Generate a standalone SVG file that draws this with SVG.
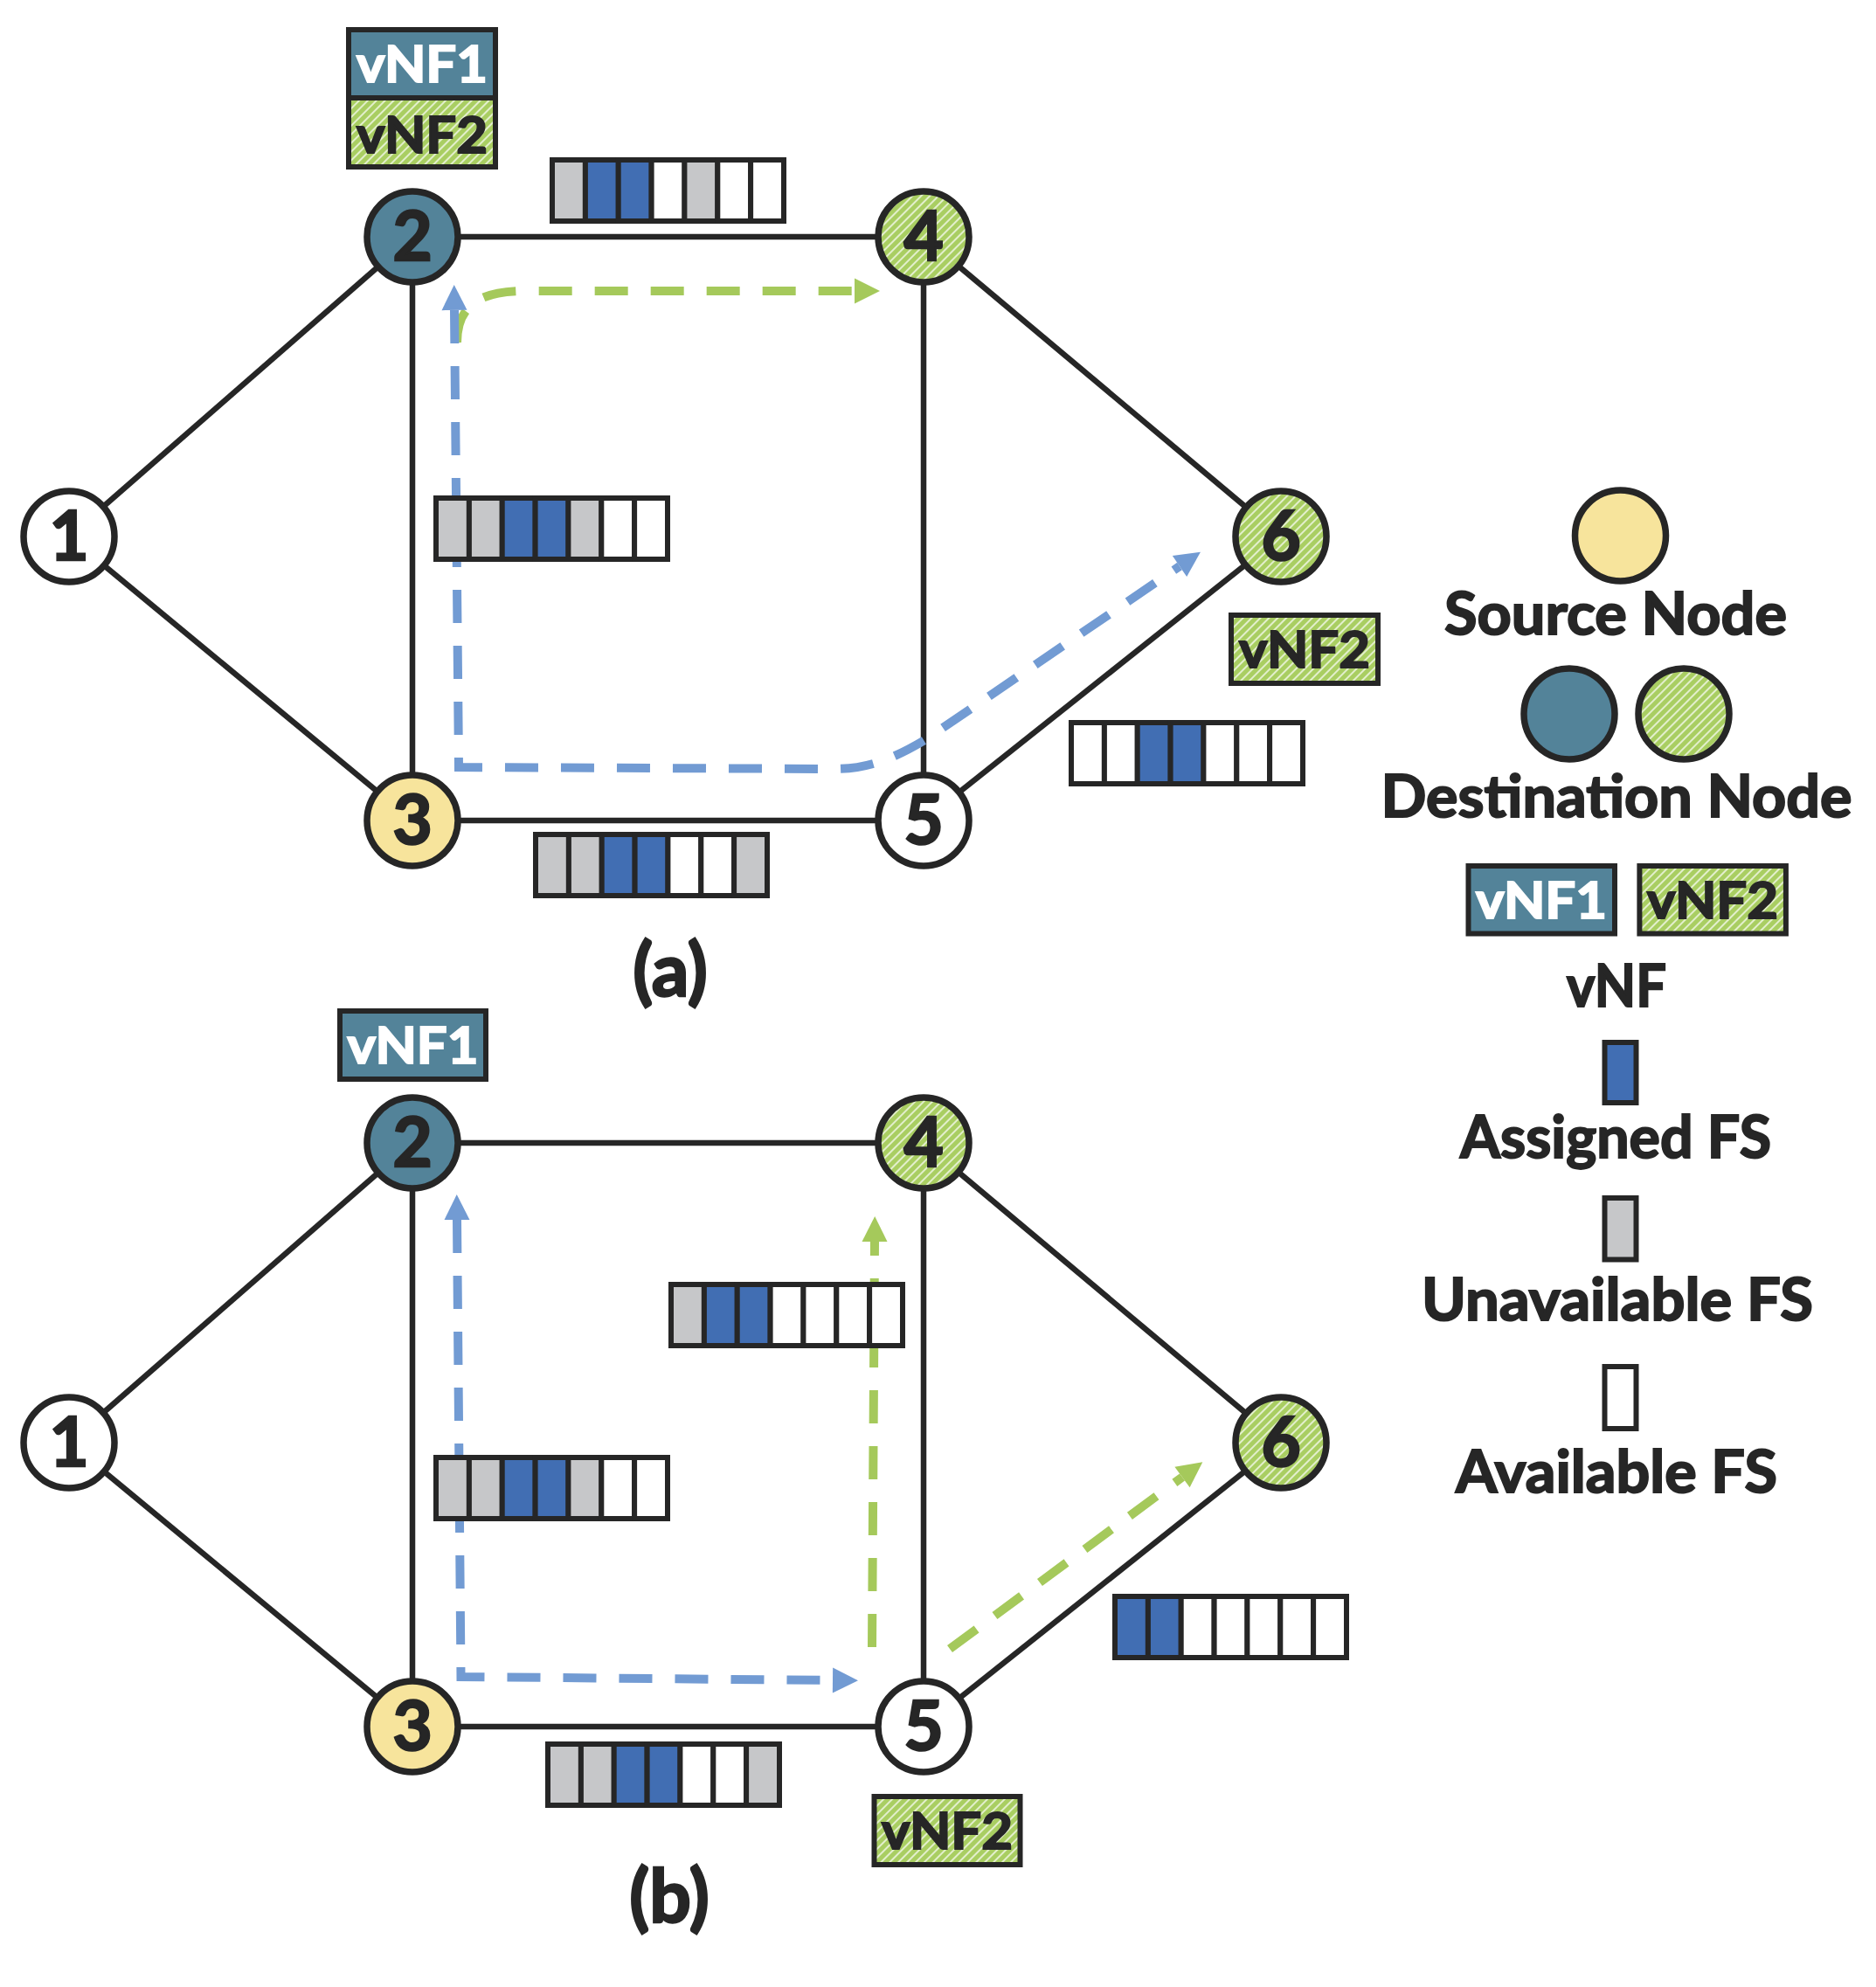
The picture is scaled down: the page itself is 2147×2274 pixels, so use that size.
<svg xmlns="http://www.w3.org/2000/svg" width="2147" height="2274" viewBox="0 0 2147 2274">
<defs>
<pattern id="hatch" patternUnits="userSpaceOnUse" width="7" height="7" patternTransform="rotate(45)">
<rect width="7" height="7" fill="#A9CE62"/>
<line x1="1" y1="0" x2="1" y2="7" stroke="#ffffff" stroke-width="1.6" stroke-opacity="0.85"/>
</pattern>
<marker id="arrB" markerUnits="userSpaceOnUse" markerWidth="32" markerHeight="32" viewBox="0 -16 30 32" refX="0" refY="0" orient="auto-start-reverse">
<path d="M0,-14.5 L29,0 L0,14.5 z" fill="#729BD3"/>
</marker>
<marker id="arrG" markerUnits="userSpaceOnUse" markerWidth="32" markerHeight="32" viewBox="0 -16 30 32" refX="0" refY="0" orient="auto-start-reverse">
<path d="M0,-14.5 L29,0 L0,14.5 z" fill="#A5C95B"/>
</marker>
</defs>
<style>
.edge{stroke:#262626;stroke-width:6.5;fill:none}
.pb{stroke:#729BD3;stroke-width:10;fill:none;stroke-dasharray:38 26}
.pg{stroke:#A5C95B;stroke-width:10;fill:none;stroke-dasharray:38 26}
.nd{stroke:#262626;stroke-width:7.5}
.w{fill:#ffffff}
.y{fill:#F7E49C}
.t{fill:#538399}
.g{fill:url(#hatch)}
.num{font-family:Lato,"Open Sans",sans-serif;font-weight:700;font-size:78px;fill:#262626;stroke:#262626;stroke-width:2.5;text-anchor:middle}
.c{stroke:#262626;stroke-width:6}
.cb{fill:#416EB3}
.cg{fill:#C6C7C9}
.cw{fill:#ffffff}
.box{stroke:#262626;stroke-width:6}
.bt{font-family:Lato,"Open Sans",sans-serif;font-weight:700;font-size:58px;stroke-width:2;text-anchor:middle}
.dk{fill:#262626;stroke:#262626}
.wt{fill:#ffffff;stroke:#ffffff}
.lg{font-family:Lato,"Open Sans",sans-serif;font-weight:700;font-size:66px;fill:#262626;stroke:#262626;stroke-width:2;text-anchor:middle}
.cap{font-family:Lato,"Open Sans",sans-serif;font-weight:700;font-size:84px;fill:#262626;stroke:#262626;stroke-width:2.5;text-anchor:middle}
</style>
<rect width="2147" height="2274" fill="#ffffff"/>

<g id="edges">
<line class="edge" x1="79" y1="614" x2="472" y2="271"/>
<line class="edge" x1="79" y1="614" x2="472" y2="939"/>
<line class="edge" x1="472" y1="271" x2="472" y2="939"/>
<line class="edge" x1="472" y1="271" x2="1057" y2="271"/>
<line class="edge" x1="472" y1="939" x2="1057" y2="939"/>
<line class="edge" x1="1057" y1="271" x2="1057" y2="939"/>
<line class="edge" x1="1057" y1="271" x2="1466" y2="614"/>
<line class="edge" x1="1057" y1="939" x2="1466" y2="614"/>
<line class="edge" x1="79" y1="1651" x2="472" y2="1308"/>
<line class="edge" x1="79" y1="1651" x2="472" y2="1976"/>
<line class="edge" x1="472" y1="1308" x2="472" y2="1976"/>
<line class="edge" x1="472" y1="1308" x2="1057" y2="1308"/>
<line class="edge" x1="472" y1="1976" x2="1057" y2="1976"/>
<line class="edge" x1="1057" y1="1308" x2="1057" y2="1976"/>
<line class="edge" x1="1057" y1="1308" x2="1466" y2="1651"/>
<line class="edge" x1="1057" y1="1976" x2="1466" y2="1651"/>
</g>

<g id="connectors">
<path class="pg" d="M523,392 C523,352 546,333 600,333 L978,333" marker-end="url(#arrG)"/>
<path class="pb" d="M520,355 L525,878 L955,880 C992,880 1022,869 1060,846 L1350,648" marker-start="url(#arrB)" marker-end="url(#arrB)"/>
<path class="pb" d="M523,1396 L527.5,1919 L953,1923" marker-start="url(#arrB)" marker-end="url(#arrB)"/>
<path class="pg" d="M998,1885 L1001,1421" marker-end="url(#arrG)"/>
<path class="pg" d="M1087,1887 L1353,1690.5" marker-end="url(#arrG)"/>
</g>

<g id="fs-a-24" transform="translate(629,180)">
<rect class="c cg" x="3" y="3" width="37.9" height="70"/><rect class="c cb" x="40.9" y="3" width="37.9" height="70"/><rect class="c cb" x="78.7" y="3" width="37.9" height="70"/><rect class="c cw" x="116.6" y="3" width="37.9" height="70"/><rect class="c cg" x="154.4" y="3" width="37.9" height="70"/><rect class="c cw" x="192.3" y="3" width="37.9" height="70"/><rect class="c cw" x="230.1" y="3" width="37.9" height="70"/>
</g>
<g id="fs-a-23" transform="translate(496,567)">
<rect class="c cg" x="3" y="3" width="37.9" height="70"/><rect class="c cg" x="40.9" y="3" width="37.9" height="70"/><rect class="c cb" x="78.7" y="3" width="37.9" height="70"/><rect class="c cb" x="116.6" y="3" width="37.9" height="70"/><rect class="c cg" x="154.4" y="3" width="37.9" height="70"/><rect class="c cw" x="192.3" y="3" width="37.9" height="70"/><rect class="c cw" x="230.1" y="3" width="37.9" height="70"/>
</g>
<g id="fs-a-35" transform="translate(610,952)">
<rect class="c cg" x="3" y="3" width="37.9" height="70"/><rect class="c cg" x="40.9" y="3" width="37.9" height="70"/><rect class="c cb" x="78.7" y="3" width="37.9" height="70"/><rect class="c cb" x="116.6" y="3" width="37.9" height="70"/><rect class="c cw" x="154.4" y="3" width="37.9" height="70"/><rect class="c cw" x="192.3" y="3" width="37.9" height="70"/><rect class="c cg" x="230.1" y="3" width="37.9" height="70"/>
</g>
<g id="fs-a-56" transform="translate(1223,824)">
<rect class="c cw" x="3" y="3" width="37.9" height="70"/><rect class="c cw" x="40.9" y="3" width="37.9" height="70"/><rect class="c cb" x="78.7" y="3" width="37.9" height="70"/><rect class="c cb" x="116.6" y="3" width="37.9" height="70"/><rect class="c cw" x="154.4" y="3" width="37.9" height="70"/><rect class="c cw" x="192.3" y="3" width="37.9" height="70"/><rect class="c cw" x="230.1" y="3" width="37.9" height="70"/>
</g>
<g id="fs-b-45" transform="translate(765,1467)">
<rect class="c cg" x="3" y="3" width="37.9" height="70"/><rect class="c cb" x="40.9" y="3" width="37.9" height="70"/><rect class="c cb" x="78.7" y="3" width="37.9" height="70"/><rect class="c cw" x="116.6" y="3" width="37.9" height="70"/><rect class="c cw" x="154.4" y="3" width="37.9" height="70"/><rect class="c cw" x="192.3" y="3" width="37.9" height="70"/><rect class="c cw" x="230.1" y="3" width="37.9" height="70"/>
</g>
<g id="fs-b-23" transform="translate(496,1665)">
<rect class="c cg" x="3" y="3" width="37.9" height="70"/><rect class="c cg" x="40.9" y="3" width="37.9" height="70"/><rect class="c cb" x="78.7" y="3" width="37.9" height="70"/><rect class="c cb" x="116.6" y="3" width="37.9" height="70"/><rect class="c cg" x="154.4" y="3" width="37.9" height="70"/><rect class="c cw" x="192.3" y="3" width="37.9" height="70"/><rect class="c cw" x="230.1" y="3" width="37.9" height="70"/>
</g>
<g id="fs-b-35" transform="translate(624,1993)">
<rect class="c cg" x="3" y="3" width="37.9" height="70"/><rect class="c cg" x="40.9" y="3" width="37.9" height="70"/><rect class="c cb" x="78.7" y="3" width="37.9" height="70"/><rect class="c cb" x="116.6" y="3" width="37.9" height="70"/><rect class="c cw" x="154.4" y="3" width="37.9" height="70"/><rect class="c cw" x="192.3" y="3" width="37.9" height="70"/><rect class="c cg" x="230.1" y="3" width="37.9" height="70"/>
</g>
<g id="fs-b-56" transform="translate(1273,1824)">
<rect class="c cb" x="3" y="3" width="37.9" height="70"/><rect class="c cb" x="40.9" y="3" width="37.9" height="70"/><rect class="c cw" x="78.7" y="3" width="37.9" height="70"/><rect class="c cw" x="116.6" y="3" width="37.9" height="70"/><rect class="c cw" x="154.4" y="3" width="37.9" height="70"/><rect class="c cw" x="192.3" y="3" width="37.9" height="70"/><rect class="c cw" x="230.1" y="3" width="37.9" height="70"/>
</g>

<g id="node-a1"><circle class="nd w" cx="79" cy="614" r="52"/><text class="num" x="79" y="641">1</text></g>
<g id="node-a2"><circle class="nd t" cx="472" cy="271" r="52"/><text class="num" x="472" y="298">2</text></g>
<g id="node-a3"><circle class="nd y" cx="472" cy="939" r="52"/><text class="num" x="472" y="966">3</text></g>
<g id="node-a4"><circle class="nd g" cx="1057" cy="271" r="52"/><text class="num" x="1057" y="298">4</text></g>
<g id="node-a5"><circle class="nd w" cx="1057" cy="939" r="52"/><text class="num" x="1057" y="966">5</text></g>
<g id="node-a6"><circle class="nd g" cx="1466" cy="614" r="52"/><text class="num" x="1466" y="641">6</text></g>

<g id="node-b1"><circle class="nd w" cx="79" cy="1651" r="52"/><text class="num" x="79" y="1678">1</text></g>
<g id="node-b2"><circle class="nd t" cx="472" cy="1308" r="52"/><text class="num" x="472" y="1335">2</text></g>
<g id="node-b3"><circle class="nd y" cx="472" cy="1976" r="52"/><text class="num" x="472" y="2003">3</text></g>
<g id="node-b4"><circle class="nd g" cx="1057" cy="1308" r="52"/><text class="num" x="1057" y="1335">4</text></g>
<g id="node-b5"><circle class="nd w" cx="1057" cy="1976" r="52"/><text class="num" x="1057" y="2003">5</text></g>
<g id="node-b6"><circle class="nd g" cx="1466" cy="1651" r="52"/><text class="num" x="1466" y="1678">6</text></g>

<g id="vnf-a2">
<rect class="box t" x="399" y="34" width="168" height="78"/>
<text class="bt wt" x="483" y="94" textLength="150" lengthAdjust="spacingAndGlyphs">vNF1</text>
<rect class="box g" x="399" y="112" width="168" height="79"/>
<text class="bt dk" x="483" y="175" textLength="150" lengthAdjust="spacingAndGlyphs">vNF2</text>
</g>
<g id="vnf-a6">
<rect class="box g" x="1409" y="704" width="168" height="78"/>
<text class="bt dk" x="1493" y="764" textLength="150" lengthAdjust="spacingAndGlyphs">vNF2</text>
</g>
<g id="vnf-b2">
<rect class="box t" x="389" y="1157" width="167" height="78"/>
<text class="bt wt" x="472.5" y="1217" textLength="150" lengthAdjust="spacingAndGlyphs">vNF1</text>
</g>
<g id="vnf-b5">
<rect class="box g" x="1000.5" y="2056" width="167" height="78"/>
<text class="bt dk" x="1084" y="2116" textLength="150" lengthAdjust="spacingAndGlyphs">vNF2</text>
</g>

<g id="captions">
<text class="cap" x="767" y="1140">(a)</text>
<text class="cap" x="766" y="2200">(b)</text>
</g>

<g id="legend">
<circle class="nd y" cx="1854.5" cy="613" r="52"/>
<text class="lg" x="1849" y="726" textLength="392" lengthAdjust="spacingAndGlyphs">Source Node</text>
<circle class="nd t" cx="1796" cy="817" r="52"/>
<circle class="nd g" cx="1927" cy="817" r="52"/>
<text class="lg" x="1850" y="935" textLength="539" lengthAdjust="spacingAndGlyphs">Destination Node</text>
<rect class="box t" x="1680.5" y="991" width="167.5" height="77.5"/>
<text class="bt wt" x="1764" y="1051" textLength="150" lengthAdjust="spacingAndGlyphs">vNF1</text>
<rect class="box g" x="1876.4" y="991" width="167.5" height="77.5"/>
<text class="bt dk" x="1960" y="1051" textLength="150" lengthAdjust="spacingAndGlyphs">vNF2</text>
<text class="lg" x="1850" y="1152" textLength="114" lengthAdjust="spacingAndGlyphs">vNF</text>
<rect class="c cb" x="1836.5" y="1193" width="36" height="69"/>
<text class="lg" x="1849" y="1325" textLength="356" lengthAdjust="spacingAndGlyphs">Assigned FS</text>
<rect class="c cg" x="1836.5" y="1371" width="36" height="70.5"/>
<text class="lg" x="1851" y="1511" textLength="448" lengthAdjust="spacingAndGlyphs">Unavailable FS</text>
<rect class="c cw" x="1836.5" y="1564" width="36" height="71"/>
<text class="lg" x="1850" y="1708" textLength="368" lengthAdjust="spacingAndGlyphs">Available FS</text>
</g>
</svg>
